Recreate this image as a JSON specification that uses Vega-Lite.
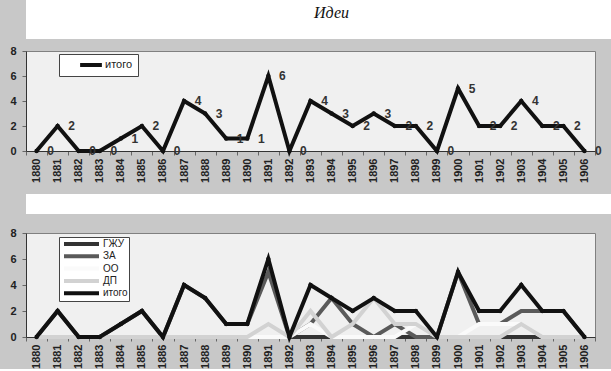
{
  "$schema": "https://vega.github.io/schema/vega-lite/v6.json",
  "background": "#c8c8c8",
  "padding": 0,
  "spacing": 0,
  "config": {
    "view": {"stroke": null},
    "axis": {
      "labelFont": "Liberation Sans", "labelFontWeight": "bold", "labelFontSize": 11, "labelColor": "#222",
      "domainColor": "#333", "domainWidth": 1, "tickColor": "#666", "tickSize": 4, "title": null, "grid": false
    },
    "legend": {
      "orient": "none", "title": null, "labelFont": "Liberation Sans", "labelColor": "#222",
      "fillColor": "white", "strokeColor": "#444", "symbolType": "stroke", "symbolStrokeWidth": 4
    }
  },
  "resolve": {"scale": {"color": "independent"}, "legend": {"color": "independent"}},
  "datasets": {
    "all": [
      {"year":"1880","s":"итого","v":0},{"year":"1881","s":"итого","v":2},{"year":"1882","s":"итого","v":0},{"year":"1883","s":"итого","v":0},{"year":"1884","s":"итого","v":1},{"year":"1885","s":"итого","v":2},{"year":"1886","s":"итого","v":0},{"year":"1887","s":"итого","v":4},{"year":"1888","s":"итого","v":3},{"year":"1889","s":"итого","v":1},{"year":"1890","s":"итого","v":1},{"year":"1891","s":"итого","v":6},{"year":"1892","s":"итого","v":0},{"year":"1893","s":"итого","v":4},{"year":"1894","s":"итого","v":3},{"year":"1895","s":"итого","v":2},{"year":"1896","s":"итого","v":3},{"year":"1897","s":"итого","v":2},{"year":"1898","s":"итого","v":2},{"year":"1899","s":"итого","v":0},{"year":"1900","s":"итого","v":5},{"year":"1901","s":"итого","v":2},{"year":"1902","s":"итого","v":2},{"year":"1903","s":"итого","v":4},{"year":"1904","s":"итого","v":2},{"year":"1905","s":"итого","v":2},{"year":"1906","s":"итого","v":0},
      {"year":"1880","s":"ГЖУ","v":0},{"year":"1881","s":"ГЖУ","v":0},{"year":"1882","s":"ГЖУ","v":0},{"year":"1883","s":"ГЖУ","v":0},{"year":"1884","s":"ГЖУ","v":0},{"year":"1885","s":"ГЖУ","v":0},{"year":"1886","s":"ГЖУ","v":0},{"year":"1887","s":"ГЖУ","v":0},{"year":"1888","s":"ГЖУ","v":0},{"year":"1889","s":"ГЖУ","v":0},{"year":"1890","s":"ГЖУ","v":0},{"year":"1891","s":"ГЖУ","v":0},{"year":"1892","s":"ГЖУ","v":0},{"year":"1893","s":"ГЖУ","v":0},{"year":"1894","s":"ГЖУ","v":0},{"year":"1895","s":"ГЖУ","v":0},{"year":"1896","s":"ГЖУ","v":0},{"year":"1897","s":"ГЖУ","v":0},{"year":"1898","s":"ГЖУ","v":0},{"year":"1899","s":"ГЖУ","v":0},{"year":"1900","s":"ГЖУ","v":0},{"year":"1901","s":"ГЖУ","v":0},{"year":"1902","s":"ГЖУ","v":0},{"year":"1903","s":"ГЖУ","v":0},{"year":"1904","s":"ГЖУ","v":0},{"year":"1905","s":"ГЖУ","v":0},{"year":"1906","s":"ГЖУ","v":0},
      {"year":"1880","s":"ЗА","v":0},{"year":"1881","s":"ЗА","v":2},{"year":"1882","s":"ЗА","v":0},{"year":"1883","s":"ЗА","v":0},{"year":"1884","s":"ЗА","v":1},{"year":"1885","s":"ЗА","v":2},{"year":"1886","s":"ЗА","v":0},{"year":"1887","s":"ЗА","v":4},{"year":"1888","s":"ЗА","v":3},{"year":"1889","s":"ЗА","v":1},{"year":"1890","s":"ЗА","v":1},{"year":"1891","s":"ЗА","v":5},{"year":"1892","s":"ЗА","v":0},{"year":"1893","s":"ЗА","v":1},{"year":"1894","s":"ЗА","v":3},{"year":"1895","s":"ЗА","v":1},{"year":"1896","s":"ЗА","v":0},{"year":"1897","s":"ЗА","v":1},{"year":"1898","s":"ЗА","v":0},{"year":"1899","s":"ЗА","v":0},{"year":"1900","s":"ЗА","v":5},{"year":"1901","s":"ЗА","v":1},{"year":"1902","s":"ЗА","v":1},{"year":"1903","s":"ЗА","v":2},{"year":"1904","s":"ЗА","v":2},{"year":"1905","s":"ЗА","v":2},{"year":"1906","s":"ЗА","v":0},
      {"year":"1880","s":"ОО","v":0},{"year":"1881","s":"ОО","v":0},{"year":"1882","s":"ОО","v":0},{"year":"1883","s":"ОО","v":0},{"year":"1884","s":"ОО","v":0},{"year":"1885","s":"ОО","v":0},{"year":"1886","s":"ОО","v":0},{"year":"1887","s":"ОО","v":0},{"year":"1888","s":"ОО","v":0},{"year":"1889","s":"ОО","v":0},{"year":"1890","s":"ОО","v":0},{"year":"1891","s":"ОО","v":0},{"year":"1892","s":"ОО","v":0},{"year":"1893","s":"ОО","v":1},{"year":"1894","s":"ОО","v":0},{"year":"1895","s":"ОО","v":0},{"year":"1896","s":"ОО","v":0},{"year":"1897","s":"ОО","v":0},{"year":"1898","s":"ОО","v":1},{"year":"1899","s":"ОО","v":0},{"year":"1900","s":"ОО","v":0},{"year":"1901","s":"ОО","v":1},{"year":"1902","s":"ОО","v":1},{"year":"1903","s":"ОО","v":1},{"year":"1904","s":"ОО","v":0},{"year":"1905","s":"ОО","v":0},{"year":"1906","s":"ОО","v":0},
      {"year":"1880","s":"ДП","v":0},{"year":"1881","s":"ДП","v":0},{"year":"1882","s":"ДП","v":0},{"year":"1883","s":"ДП","v":0},{"year":"1884","s":"ДП","v":0},{"year":"1885","s":"ДП","v":0},{"year":"1886","s":"ДП","v":0},{"year":"1887","s":"ДП","v":0},{"year":"1888","s":"ДП","v":0},{"year":"1889","s":"ДП","v":0},{"year":"1890","s":"ДП","v":0},{"year":"1891","s":"ДП","v":1},{"year":"1892","s":"ДП","v":0},{"year":"1893","s":"ДП","v":2},{"year":"1894","s":"ДП","v":0},{"year":"1895","s":"ДП","v":1},{"year":"1896","s":"ДП","v":3},{"year":"1897","s":"ДП","v":1},{"year":"1898","s":"ДП","v":1},{"year":"1899","s":"ДП","v":0},{"year":"1900","s":"ДП","v":0},{"year":"1901","s":"ДП","v":0},{"year":"1902","s":"ДП","v":0},{"year":"1903","s":"ДП","v":1},{"year":"1904","s":"ДП","v":0},{"year":"1905","s":"ДП","v":0},{"year":"1906","s":"ДП","v":0}
    ]
  },
  "vconcat": [
    {
      "width": 611, "height": 39,
      "view": {"fill": "white", "stroke": null},
      "data": {"values": [{"t": "Идеи"}]},
      "mark": {"type": "text", "font": "Liberation Serif", "fontStyle": "italic", "fontSize": 16, "dy": -7, "color": "#111"},
      "encoding": {"text": {"field": "t"}}
    },
    {
      "width": 611, "height": 5,
      "view": {"stroke": null},
      "data": {"values": [{"t": ""}]},
      "mark": {"type": "point", "size": 0, "opacity": 0},
      "encoding": {}
    },
    {
      "width": 569, "height": 100,
      "view": {"fill": "#f0f0f0", "stroke": "#808080"},
      "data": {"name": "all"},
      "transform": [{"filter": "datum.s === 'итого'"}],
      "encoding": {
        "x": {"field": "year", "type": "ordinal", "scale": {"type": "band", "paddingInner": 0, "paddingOuter": 0},
              "axis": {"labelAngle": -90, "tickBand": "extent", "labelPadding": 3}},
        "y": {"field": "v", "type": "quantitative", "scale": {"domain": [0, 8]},
              "axis": {"values": [0, 2, 4, 6, 8], "minExtent": 25, "labelPadding": 6}}
      },
      "layer": [
        {
          "mark": {"type": "line", "strokeWidth": 4},
          "encoding": {
            "color": {"field": "s", "type": "nominal", "scale": {"domain": ["итого"], "range": ["#111111"]},
                      "legend": {"legendX": 33, "legendY": 3, "padding": 5, "labelFontSize": 11, "clipHeight": 12,
                                 "symbolSize": 474, "symbolOffset": 14, "labelOffset": 1}}
          }
        },
        {"mark": {"type": "point", "filled": true, "size": 20, "color": "#111", "opacity": 1}},
        {
          "mark": {"type": "text", "dx": 14, "align": "center", "baseline": "middle", "font": "Liberation Sans", "fontWeight": "bold", "fontSize": 12, "color": "#333"},
          "encoding": {"text": {"field": "v", "type": "quantitative"}}
        }
      ]
    },
    {
      "width": 611, "height": 11,
      "view": {"stroke": null},
      "data": {"values": [{"t": ""}]},
      "mark": {"type": "point", "size": 0, "opacity": 0},
      "encoding": {}
    },
    {
      "width": 611, "height": 20,
      "view": {"fill": "white", "stroke": null},
      "data": {"values": [{"t": ""}]},
      "mark": {"type": "point", "size": 0, "opacity": 0},
      "encoding": {}
    },
    {
      "width": 611, "height": 12,
      "view": {"stroke": null},
      "data": {"values": [{"t": ""}]},
      "mark": {"type": "point", "size": 0, "opacity": 0},
      "encoding": {}
    },
    {
      "width": 569, "height": 104,
      "view": {"fill": "#f0f0f0", "stroke": "#808080"},
      "data": {"name": "all"},
      "encoding": {
        "x": {"field": "year", "type": "ordinal", "scale": {"type": "band", "paddingInner": 0, "paddingOuter": 0},
              "axis": {"labelAngle": -90, "tickBand": "extent", "labelPadding": 3}},
        "y": {"field": "v", "type": "quantitative", "scale": {"domain": [0, 8]},
              "axis": {"values": [0, 2, 4, 6, 8], "minExtent": 25, "labelPadding": 6}}
      },
      "layer": [
        {
          "transform": [{"filter": "datum.s !== 'итого'"}],
          "mark": {"type": "line", "strokeWidth": 4},
          "encoding": {
            "color": {"field": "s", "type": "nominal",
                      "scale": {"domain": ["ГЖУ", "ЗА", "ОО", "ДП", "итого"], "range": ["#333333", "#5a5a5a", "#fafafa", "#d2d2d2", "#111111"]},
                      "legend": {"legendX": 33, "legendY": 4, "padding": 1, "labelFontSize": 10, "rowPadding": 0.3, "clipHeight": 12,
                                 "symbolSize": 1225, "symbolOffset": 2, "labelOffset": 2}}
          }
        },
        {
          "transform": [{"filter": "datum.s === 'итого'"}],
          "mark": {"type": "line", "strokeWidth": 4},
          "encoding": {"color": {"field": "s", "type": "nominal"}}
        },
        {
          "transform": [{"filter": "datum.s === 'итого'"}],
          "mark": {"type": "point", "filled": true, "size": 20, "color": "#111", "opacity": 1}
        }
      ]
    }
  ]
}
